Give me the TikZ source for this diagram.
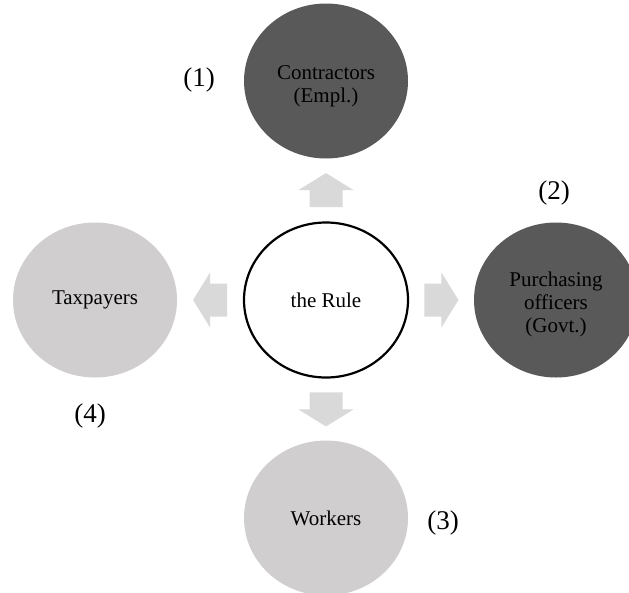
\documentclass[tikz,border=0pt]{standalone}
\usepackage{fontspec}
\setmainfont{Liberation Serif}
\usetikzlibrary{shapes.geometric,calc}
\definecolor{darkdisc}{HTML}{595959}
\definecolor{lightdisc}{HTML}{D0CECE}
\definecolor{arrowgray}{HTML}{D9D9D9}
% centred stack of lines, lowered a little inside its disc (box size kept)
\newcommand{\disclines}[1]{\raisebox{-5pt}[\height][\depth]{\begin{tabular}{@{}c@{}}#1\end{tabular}}}
\tikzset{
  disc/.style={ellipse, minimum width=164pt, minimum height=155pt, inner sep=0pt,
    align=center, text=black, font=\fontsize{21}{23}\selectfont},
  darkdisc/.style={disc, fill=darkdisc},
  lightdisc/.style={disc, fill=lightdisc},
  ruledisc/.style={disc, fill=white, draw=black, line width=2.2pt},
  numlabel/.style={text=black, font=\fontsize{27}{30}\selectfont, inner sep=0pt},
  blockarrow/.pic={
    \fill[arrowgray] (-17,-16.5) -- (0,-16.5) -- (0,-27.5) -- (17,0)
      -- (0,27.5) -- (0,16.5) -- (-17,16.5) -- cycle;
  }
}
\begin{document}
\begin{tikzpicture}[x=1pt, y=-1pt]
  \useasboundingbox (0,0) rectangle (629,592);
  \clip (0,0) rectangle (629,592);

  % discs
  \node[ruledisc]  (rule)  at (326,300) {the Rule};
  \node[darkdisc]  (contr) at (326,81)  {\disclines{Contractors\\(Empl.)}};
  \node[darkdisc]  (purch) at (556,300) {\disclines{Purchasing\\officers\\(Govt.)}};
  \node[lightdisc] (work)  at (326,518) {Workers};
  \node[lightdisc] (tax)   at (95,300)  {Taxpayers};

  % block arrows from the centre outwards
  \pic[rotate=90] at ($(rule.north)!0.5!(contr.south)$) {blockarrow};
  \pic at ($(rule.east)!0.5!(purch.west)$) {blockarrow};
  \pic[rotate=-90] at ($(rule.south)!0.5!(work.north)$) {blockarrow};
  \pic[rotate=180] at ($(rule.west)!0.5!(tax.east)$) {blockarrow};

  % numbering
  \node[numlabel] (n1) at (199,80)  {(1)};
  \node[numlabel] (n2) at (554,193) {(2)};
  \node[numlabel] (n3) at (443,523) {(3)};
  \node[numlabel] (n4) at (90,416)  {(4)};
\end{tikzpicture}
\end{document}
